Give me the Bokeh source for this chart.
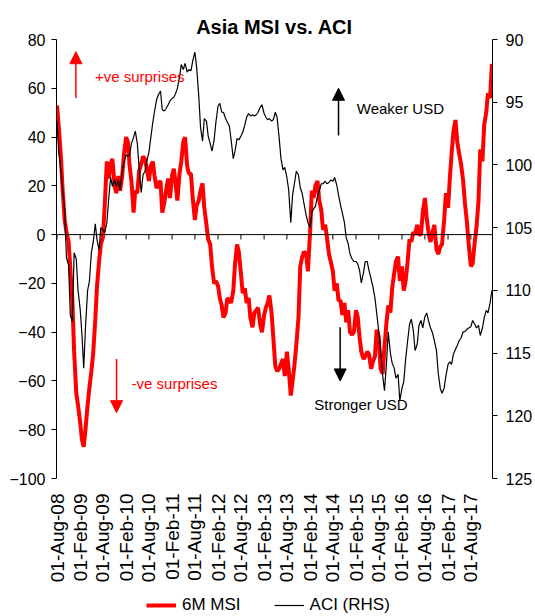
import math
import pandas as pd
from bokeh.plotting import figure
from bokeh.layouts import column
from bokeh.models import (Range1d, LinearAxis, FixedTicker, DatetimeTickFormatter, Span,
                          Arrow, NormalHead, Label, Legend, LegendItem)
from bokeh.embed import file_html
from bokeh.resources import INLINE

# ---- data (semi-monthly readings, Aug-2008 .. Jan-2018) ----
dates = pd.date_range("2008-08-01", periods=228, freq="SMS")

msi = [53, 44, 32, 18, 6, 1, -3, -14, -27, -48,
       -65, -70, -77, -84, -87, -80, -70, -63, -56, -49,
       -35, -21, -11, -4, -1, 12, 30, 23, 29, 31,
       20, 17, 24, 18, 24, 33, 40, 38, 28, 22,
       9, 18, 17, 26, 29, 32, 31, 27, 22, 28,
       30, 24, 19, 21, 22, 9, 13, 18, 23, 15,
       24, 27, 21, 14, 25, 30, 38, 40, 28, 25,
       25, 15, 6, 12, 14, 18, 21, 11, 4, -2,
       -4, -13, -20, -19, -21, -26, -29, -34, -32, -26,
       -27, -28, -23, -12, -4, -7, -16, -24, -22, -28,
       -26, -34, -38, -32, -31, -30, -37, -40, -33, -30,
       -28, -25, -32, -42, -54, -56, -55, -53, -51, -58,
       -48, -55, -66, -60, -53, -45, -34, -13, -9, -7,
       -8, -15, 1, 18, 15, 20, 22, 14, 10, 2,
       4, -1, -8, -11, -15, -23, -20, -27, -27, -33,
       -28, -36, -31, -40, -41, -40, -31, -34, -42, -48,
       -51, -50, -48, -49, -55, -52, -50, -39, -42, -55,
       -57, -46, -36, -29, -32, -22, -16, -11, -9, -19,
       -13, -23, -19, -12, -2, -3, 1, 0, 4, 0,
       0, 9, 15, 7, 0, -3, 1, 4, -6, -8,
       -5, -4, 6, 17, 11, 23, 33, 42, 47, 38,
       33, 29, 22, 13, 5, -4, -13, -12, -3, 3,
       14, 35, 30, 45, 50, 58, 56, 70]

aci = [96.5, 99, 100.5, 102, 103.6, 107.4, 108, 112, 112.5, 107,
       107.5, 110, 111.5, 113.5, 116.2, 113, 110, 109.3, 107, 106.2,
       104.7, 106, 106.8, 105, 105.2, 105.4, 104.6, 102.8, 101, 101.7,
       101.2, 101.7, 101.2, 102, 100.5, 99.8, 99.2, 99.3, 99.2, 98.3,
       97.8, 97.3, 98.3, 100.2, 102.2, 100.8, 100.5, 99.7, 99, 97.9,
       96.6, 95.7, 94.8, 94.4, 94.1, 95.6, 95.7, 95.5, 95.2, 94.9,
       94.7, 94.6, 94.3, 93.9, 93, 92, 92.4, 91.9, 92.6, 92.4,
       92.5, 91.7, 91, 92.2, 94.5, 97, 98.1, 96.3, 96.5, 97.7,
       98.3, 98.9, 98, 96.6, 95.3, 95.1, 95.8, 95.8, 96.3, 96.6,
       96.9, 98, 99.5, 98.9, 97.9, 98, 97.7, 97.4, 96.8, 96.2,
       95.9, 96.1, 96, 96.1, 96, 95.8, 95.4, 95.2, 95.9, 96.2,
       96.4, 96.3, 96.5, 96.4, 95.8, 96.2, 97.9, 99.5, 100.4, 100.2,
       101, 102, 104.6, 102.4, 101.4, 100.5, 100.8, 101.8, 102.3, 103.1,
       104, 104.6, 105, 103.8, 103.5, 103.3, 102.5, 102.1, 101.5, 101.5,
       101.3, 101.5, 101.4, 101.2, 101.3, 101, 101.6, 102.4, 103.2, 103.8,
       104.6, 105.8, 106.3, 107.1, 107.5, 107.7, 107.7, 107.9, 108.4, 109.4,
       108.6, 107.7, 107.7, 108.4, 109.1, 109.7, 110.6, 111.8, 113.3, 114.7,
       116.8, 118, 115.8, 113.3, 115, 115.8, 116.2, 117, 116.7, 118.8,
       117.8, 117.3, 115.5, 114.2, 112.7, 112.3, 113.2, 114.8, 114.3, 112.8,
       112.4, 113, 112.1, 111.8, 112.5, 113, 113.4, 114, 114.8, 116.6,
       117.8, 118.2, 117.8, 116.8, 115.9, 115.7, 115.9, 115.1, 114.7, 114.4,
       114, 113.8, 113.3, 113.3, 113.1, 113, 112.9, 112.4, 112.7, 113,
       112.8, 113.6, 113, 112.2, 111.6, 111.8, 111, 110]

tick_dates = ["2008-08-01", "2009-02-01", "2009-08-01", "2010-02-01", "2010-08-01",
              "2011-02-01", "2011-08-01", "2012-02-01", "2012-08-01", "2013-02-01",
              "2013-08-01", "2014-02-01", "2014-08-01", "2015-02-01", "2015-08-01",
              "2016-02-01", "2016-08-01", "2017-02-01", "2017-08-01"]
left_ticks = [-100, -80, -60, -40, -20, 0, 20, 40, 60, 80]
right_ticks = [90, 95, 100, 105, 110, 115, 120, 125]
series_names = ["6M MSI", "ACI (RHS)"]


def ms(d):
    return pd.Timestamp(d).value / 1e6


FONT = "Liberation Sans"
RED = "#ff0000"
tick_ms = [ms(d) for d in tick_dates]

p = figure(width=535, height=592, x_axis_type="datetime",
           x_range=Range1d(ms("2008-07-28"), ms("2018-01-20")),
           y_range=Range1d(-100, 80),
           output_backend="svg", toolbar_location=None,
           min_border_left=56, min_border_right=41, min_border_top=39, min_border_bottom=114)
p.extra_y_ranges = {"aci": Range1d(125, 90)}
p.xgrid.visible = False
p.ygrid.visible = False
p.outline_line_color = None
p.background_fill_color = "white"
p.border_fill_color = "white"

p.title.text = "Asia MSI vs. ACI"
p.title.align = "center"
p.title.text_font = FONT
p.title.text_font_size = "20px"
p.title.text_font_style = "bold"
p.title.text_color = "black"
p.title.standoff = 4

# x axis: labels only (the axis line sits at zero)
xa = p.xaxis[0]
xa.ticker = FixedTicker(ticks=tick_ms)
fmt = "%d-%b-%y"
xa.formatter = DatetimeTickFormatter(days=fmt, months=fmt, years=fmt, hours=fmt,
                                     minutes=fmt, seconds=fmt, milliseconds=fmt,
                                     minsec=fmt, hourmin=fmt)
xa.axis_line_color = None
xa.major_tick_line_color = None
xa.minor_tick_line_color = None
xa.major_label_orientation = math.pi / 2
xa.major_label_standoff = 9
xa.major_label_text_font = FONT
xa.major_label_text_font_size = "19px"
xa.major_label_text_color = "black"

ya = p.yaxis[0]
ya.ticker = FixedTicker(ticks=left_ticks)
ya.minor_tick_line_color = None
ya.major_tick_in = 0
ya.major_tick_out = 5
ya.axis_line_color = "black"
ya.major_label_text_font = FONT
ya.major_label_text_font_size = "16px"
ya.major_label_text_color = "black"
ya.major_label_standoff = 6

ra = LinearAxis(y_range_name="aci", ticker=FixedTicker(ticks=right_ticks))
ra.minor_tick_line_color = None
ra.major_tick_in = 0
ra.major_tick_out = 5
ra.major_label_text_font = FONT
ra.major_label_text_font_size = "16px"
ra.major_label_text_color = "black"
ra.major_label_standoff = 8
p.add_layout(ra, "right")

# zero line with date tick marks
p.add_layout(Span(location=0, dimension="width", line_color="black", line_width=1))
p.segment(x0=tick_ms, y0=[0] * len(tick_ms), x1=tick_ms, y1=[-2] * len(tick_ms),
          line_color="black", line_width=1)

r_msi = p.line(dates, msi, line_color=RED, line_width=4)
r_aci = p.line(dates, aci, y_range_name="aci", line_color="black", line_width=1.2)

# annotations
p.add_layout(Arrow(end=NormalHead(size=12, fill_color=RED, line_color=RED),
                   x_start=ms("2008-12-29"), y_start=56, x_end=ms("2008-12-29"), y_end=75,
                   line_color=RED, line_width=1.5))
p.add_layout(Arrow(end=NormalHead(size=12, fill_color=RED, line_color=RED),
                   x_start=ms("2009-11-17"), y_start=-51, x_end=ms("2009-11-17"), y_end=-73,
                   line_color=RED, line_width=1.5))
p.add_layout(Arrow(end=NormalHead(size=12, fill_color="black", line_color="black"),
                   x_start=ms("2014-09-15"), y_start=40.6, x_end=ms("2014-09-15"), y_end=60,
                   line_color="black", line_width=1.5))
p.add_layout(Arrow(end=NormalHead(size=12, fill_color="black", line_color="black"),
                   x_start=ms("2014-09-28"), y_start=-38, x_end=ms("2014-09-28"), y_end=-60,
                   line_color="black", line_width=1.5))

for txt, d, yv, col in [("+ve surprises", "2009-05-29", 64.8, RED),
                        ("-ve surprises", "2010-03-16", -61, RED),
                        ("Weaker USD", "2015-02-07", 51.6, "black"),
                        ("Stronger USD", "2014-03-06", -69.5, "black")]:
    p.add_layout(Label(x=ms(d), y=yv, text=txt, text_color=col, text_font=FONT,
                       text_font_size="15px", text_align="left", text_baseline="middle"))

# legend strip below the chart; its key lines carry the same series (outside its view)
lg = figure(width=535, height=24, output_backend="svg", toolbar_location=None,
            x_range=Range1d(0, 1), y_range=Range1d(0, 1), min_border=0,
            x_axis_location=None, y_axis_location=None)
lg.grid.visible = False
lg.outline_line_color = None
lg.background_fill_color = "white"
lg.border_fill_color = "white"
k_msi = lg.line(dates, msi, line_color=RED, line_width=4)
k_aci = lg.line(dates, aci, line_color="black", line_width=1.2)
legend = Legend(items=[LegendItem(label=series_names[0], renderers=[k_msi]),
                       LegendItem(label=series_names[1], renderers=[k_aci])],
                orientation="horizontal", location=(90, 1),
                glyph_width=30, glyph_height=20, label_height=20, label_standoff=6,
                spacing=33, padding=0, margin=0,
                label_text_font=FONT, label_text_font_size="17px", label_text_color="black",
                border_line_color=None, background_fill_alpha=0)
lg.add_layout(legend)

open("out.html", "w").write(file_html(column(p, lg, spacing=0), INLINE))
